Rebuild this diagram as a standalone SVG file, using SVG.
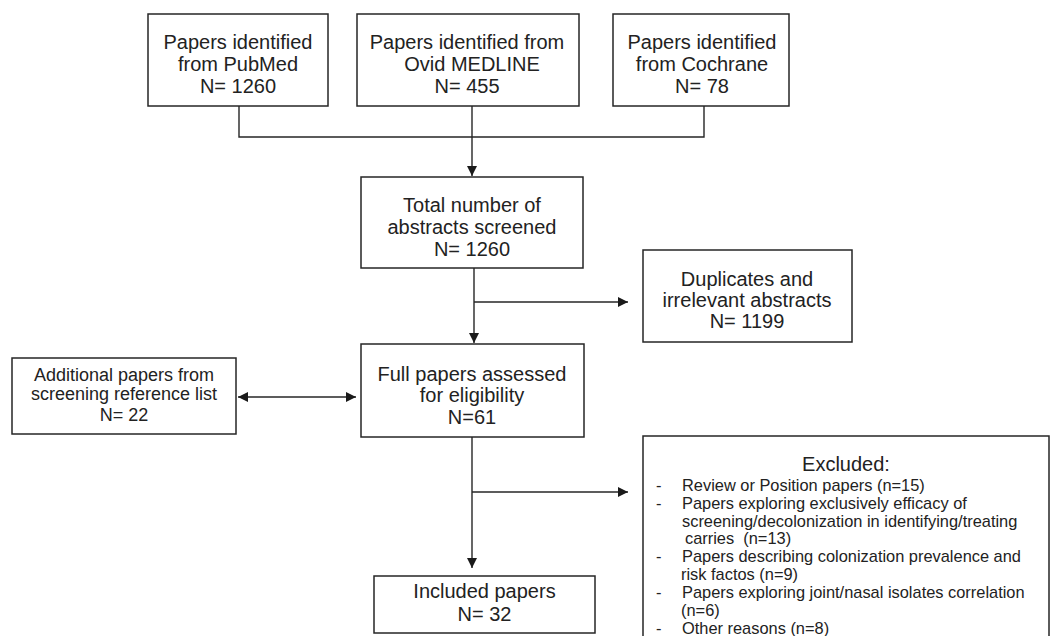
<svg xmlns="http://www.w3.org/2000/svg" width="1052" height="636" viewBox="0 0 1052 636">
<defs>
<style>
.box{fill:#fff;stroke:#262626;stroke-width:1.5}
.t{font-family:"Liberation Sans",Arial,sans-serif;font-size:20px;fill:#222;text-anchor:middle}
.s{font-size:18px}
.e{font-family:"Liberation Sans",Arial,sans-serif;font-size:16.4px;fill:#222;white-space:pre}
.c{fill:none;stroke:#262626;stroke-width:1.4}
</style>
<marker id="ah" viewBox="0 0 10 10" refX="10" refY="5" markerWidth="10" markerHeight="10" markerUnits="userSpaceOnUse" orient="auto-start-reverse">
<path d="M0,0 L10,5 L0,10 z" fill="#1a1a1a"/>
</marker>
</defs>
<rect width="1052" height="636" fill="#fff"/>
<g id="connectors">
<path class="c" d="M239,106 V137 H704 V106"/>
<line class="c" x1="472" y1="106" x2="472" y2="176" marker-end="url(#ah)"/>
<line class="c" x1="474" y1="268" x2="474" y2="343" marker-end="url(#ah)"/>
<line class="c" x1="474" y1="302" x2="628" y2="302" marker-end="url(#ah)"/>
<line class="c" x1="238" y1="397" x2="356" y2="397" marker-start="url(#ah)" marker-end="url(#ah)"/>
<line class="c" x1="472" y1="437" x2="472" y2="568" marker-end="url(#ah)"/>
<line class="c" x1="472" y1="492" x2="628" y2="492" marker-end="url(#ah)"/>
</g>
<g id="pubmed">
<rect class="box" x="148" y="14" width="180" height="92"/>
<text class="t" x="238" y="49">Papers identified</text>
<text class="t" x="238" y="71">from PubMed</text>
<text class="t" x="238" y="93">N= 1260</text>
</g>
<g id="medline">
<rect class="box" x="357" y="14" width="222" height="92"/>
<text class="t" x="467" y="49">Papers identified from</text>
<text class="t" x="472" y="71">Ovid MEDLINE</text>
<text class="t" x="467" y="93">N= 455</text>
</g>
<g id="cochrane">
<rect class="box" x="613" y="14" width="176" height="92"/>
<text class="t" x="702" y="49">Papers identified</text>
<text class="t" x="702" y="71">from Cochrane</text>
<text class="t" x="702" y="93">N= 78</text>
</g>
<g id="total">
<rect class="box" x="361" y="177" width="222" height="91"/>
<text class="t" x="472" y="212">Total number of</text>
<text class="t" x="472" y="234">abstracts screened</text>
<text class="t" x="472" y="256">N= 1260</text>
</g>
<g id="duplicates">
<rect class="box" x="643" y="250" width="209" height="92"/>
<text class="t" x="747" y="286">Duplicates and</text>
<text class="t" x="747" y="307">irrelevant abstracts</text>
<text class="t" x="747" y="328">N= 1199</text>
</g>
<g id="additional">
<rect class="box" x="12" y="358" width="224" height="76"/>
<text class="t s" x="124" y="381">Additional papers from</text>
<text class="t s" x="124" y="400">screening reference list</text>
<text class="t s" x="124" y="421">N= 22</text>
</g>
<g id="full">
<rect class="box" x="361" y="344" width="223" height="93"/>
<text class="t" x="472" y="381">Full papers assessed</text>
<text class="t" x="472" y="402">for eligibility</text>
<text class="t" x="472" y="424">N=61</text>
</g>
<g id="included">
<rect class="box" x="374" y="576" width="221" height="57"/>
<text class="t" x="484.5" y="598">Included papers</text>
<text class="t" x="484.5" y="621">N= 32</text>
</g>
<g id="excluded">
<rect class="box" x="643" y="436" width="406" height="210"/>
<text class="t" x="846" y="471">Excluded:</text>
<text class="e" x="656" y="491">-</text>
<text class="e" x="682" y="491">Review or Position papers (n=15)</text>
<text class="e" x="656" y="509">-</text>
<text class="e" x="682" y="509">Papers exploring exclusively efficacy of</text>
<text class="e" x="682" y="527">screening/decolonization in identifying/treating</text>
<text class="e" x="685" y="544">carries  (n=13)</text>
<text class="e" x="656" y="562">-</text>
<text class="e" x="682" y="562">Papers describing colonization prevalence and</text>
<text class="e" x="681" y="580">risk factos (n=9)</text>
<text class="e" x="656" y="598">-</text>
<text class="e" x="682" y="598">Papers exploring joint/nasal isolates correlation</text>
<text class="e" x="681" y="616">(n=6)</text>
<text class="e" x="656" y="634">-</text>
<text class="e" x="682" y="634">Other reasons (n=8)</text>
</g>
</svg>
